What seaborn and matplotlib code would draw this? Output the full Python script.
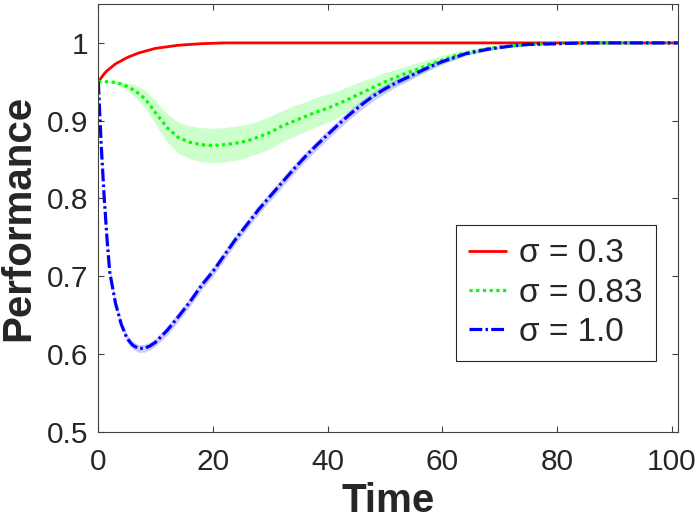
import matplotlib
matplotlib.use("Agg")
import matplotlib.pyplot as plt
import seaborn as sns
import numpy as np

# values
time = [0, 0.5, 1, 1.5, 2, 3, 4, 5, 6, 7, 8, 9, 10,
        12, 14, 16, 18, 20, 22, 24, 26, 28, 30, 32, 34, 36, 38, 40,
        42, 44, 46, 48, 50, 52, 54, 56, 58, 60, 62, 64, 66, 68, 70, 72,
        75, 80, 85, 90, 95, 101]

perf_03 = [0.950, 0.955, 0.960, 0.964, 0.967, 0.973, 0.977, 0.981, 0.984, 0.987, 0.989, 0.991, 0.993,
           0.995, 0.997, 0.998, 0.999, 0.9995, 1.0, 1.0, 1.0, 1.0, 1.0, 1.0, 1.0, 1.0, 1.0, 1.0,
           1.0, 1.0, 1.0, 1.0, 1.0, 1.0, 1.0, 1.0, 1.0, 1.0, 1.0, 1.0, 1.0, 1.0, 1.0, 1.0,
           1.0, 1.0, 1.0, 1.0, 1.0, 1.0]

perf_083 = [0.950, 0.950, 0.950, 0.950, 0.950, 0.949, 0.947, 0.944, 0.940, 0.935, 0.929, 0.920, 0.910,
            0.891, 0.878, 0.872, 0.869, 0.868, 0.869, 0.871, 0.874, 0.879, 0.885, 0.893, 0.899, 0.905, 0.911, 0.916,
            0.922, 0.929, 0.936, 0.943, 0.950, 0.956, 0.962, 0.967, 0.973, 0.978, 0.983, 0.987, 0.990, 0.993, 0.995, 0.996,
            0.998, 0.999, 1.0, 1.0, 1.0, 1.0]
err_083 = [0.000, 0.000, 0.001, 0.001, 0.001, 0.002, 0.003, 0.005, 0.007, 0.009, 0.011, 0.013, 0.015,
           0.018, 0.020, 0.021, 0.022, 0.022, 0.022, 0.022, 0.021, 0.021, 0.021, 0.020, 0.020, 0.019, 0.019, 0.018,
           0.017, 0.016, 0.015, 0.013, 0.012, 0.010, 0.009, 0.008, 0.007, 0.006, 0.005, 0.004, 0.003, 0.003, 0.002, 0.002,
           0.001, 0.001, 0.000, 0.000, 0.000, 0.000]

perf_10 = [0.950, 0.870, 0.805, 0.750, 0.705, 0.665, 0.638, 0.620, 0.611, 0.607, 0.607, 0.610, 0.615,
           0.630, 0.648, 0.667, 0.688, 0.706, 0.727, 0.748, 0.767, 0.786, 0.803, 0.820, 0.837, 0.853, 0.868, 0.882,
           0.896, 0.909, 0.921, 0.932, 0.941, 0.949, 0.956, 0.963, 0.970, 0.976, 0.981, 0.986, 0.989, 0.992, 0.994, 0.996,
           0.998, 0.999, 1.0, 1.0, 1.0, 1.0]
err_10 = [0.001, 0.002, 0.003, 0.004, 0.004, 0.005, 0.005, 0.005, 0.005, 0.005, 0.005, 0.005, 0.005,
          0.006, 0.006, 0.006, 0.006, 0.006, 0.006, 0.006, 0.006, 0.006, 0.006, 0.006, 0.006, 0.006, 0.006, 0.006,
          0.006, 0.006, 0.006, 0.006, 0.006, 0.005, 0.005, 0.004, 0.004, 0.003, 0.003, 0.002, 0.002, 0.002, 0.001, 0.001,
          0.001, 0.000, 0.000, 0.000, 0.000, 0.000]

labels = ["σ = 0.3", "σ = 0.83", "σ = 1.0"]
x_ticks = [0, 20, 40, 60, 80, 100]
y_ticks = [0.5, 0.6, 0.7, 0.8, 0.9, 1.0]
y_tick_labels = ["0.5", "0.6", "0.7", "0.8", "0.9", "1"]

sns.set_theme(style="ticks")
plt.rcParams['font.family'] = ['Liberation Sans', 'DejaVu Sans']

fig = plt.figure(figsize=(7, 5.24), dpi=100)
ax = fig.add_axes([0.1404, 0.1765, 0.8277, 0.8158])

t = np.array(time)

# shaded spread bands
ax.fill_between(t, np.array(perf_083) - np.array(err_083), np.array(perf_083) + np.array(err_083),
                color=(0, 1, 0), alpha=0.2, lw=0)
ax.fill_between(t, np.array(perf_10) - np.array(err_10), np.array(perf_10) + np.array(err_10),
                color=(0, 0, 1), alpha=0.2, lw=0)

sns.lineplot(x=time, y=perf_03, ax=ax, color=(1, 0, 0), lw=2, label=labels[0])
sns.lineplot(x=time, y=perf_083, ax=ax, color=(0, 1, 0), lw=2.3, linestyle=(0, (1, 1.1)), label=labels[1])
sns.lineplot(x=time, y=perf_10, ax=ax, color=(0, 0, 1), lw=2.3, linestyle=(0, (4, 1, 0.8, 1)), label=labels[2])

ax.set_xlim(0, 101)
ax.set_ylim(0.5, 1.05)
ax.set_xticks(x_ticks)
ax.set_yticks(y_ticks)
ax.set_yticklabels(y_tick_labels)

for s in ax.spines.values():
    s.set_visible(True)
    s.set_color('#404040')
    s.set_linewidth(0.8)
ax.tick_params(direction='in', top=True, right=True, length=4.5, width=0.8,
               color='#404040', labelsize=21.5, labelcolor='#262626', pad=7)
ax.tick_params(axis='x', pad=12)

ax.set_xlabel("Time", fontsize=29, fontweight='bold', color='#262626', labelpad=4)
ax.set_ylabel("Performance", fontsize=29, fontweight='bold', color='#262626', labelpad=7)

leg = ax.legend(loc='upper right', bbox_to_anchor=(0.9626, 0.483), borderaxespad=0,
                fontsize=24, handlelength=1.1, labelspacing=0.25, fancybox=False,
                framealpha=1, edgecolor='#262626', borderpad=0.4, handletextpad=0.4)
leg.get_frame().set_linewidth(0.8)

fig.savefig("out.png", dpi=100)
